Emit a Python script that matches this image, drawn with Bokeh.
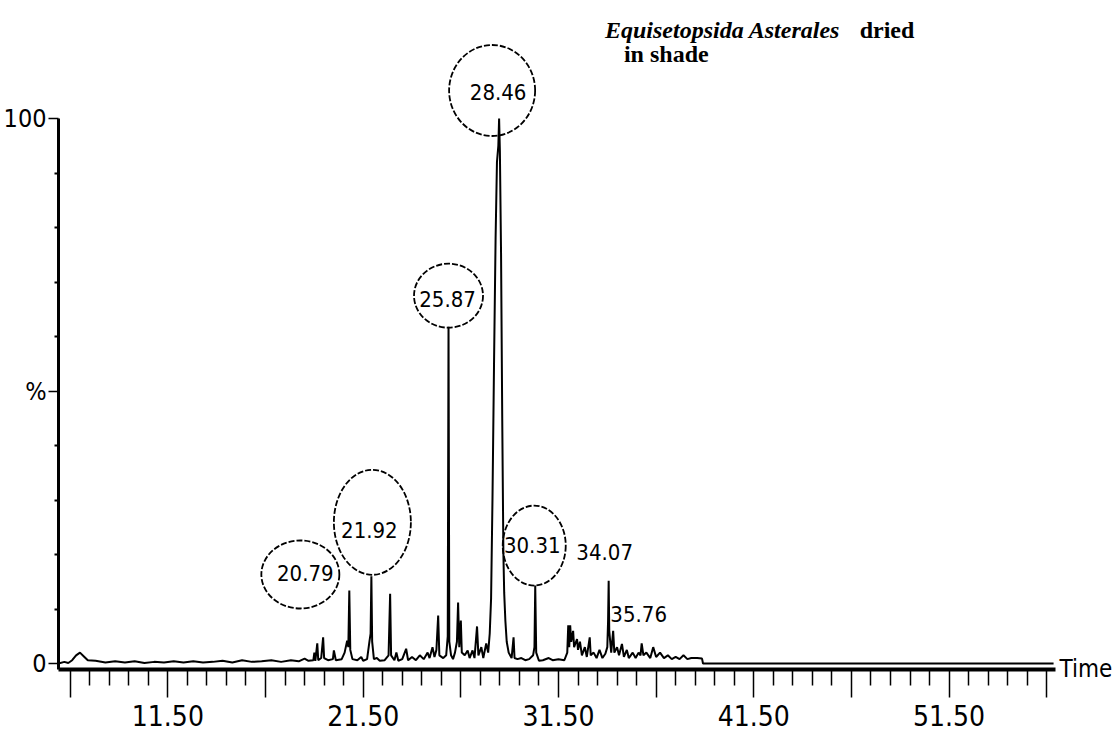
from bokeh.plotting import figure
from bokeh.models import FixedTicker, Range1d, Label, ColumnDataSource, LinearAxis
from bokeh.embed import file_html
from bokeh.resources import INLINE
from bokeh.core.properties import value

# ---------------- data (retention time [min], relative intensity [%]) ----------------
early_baseline = [
    (5.9, 0.0), (6.2, 0.3), (6.4, 0.1), (6.6, 0.6), (6.8, 1.5), (7.0, 2.0), (7.2, 1.3),
    (7.4, 0.6), (7.8, 0.5), (8.3, 0.2), (8.8, 0.4), (9.3, 0.2), (9.8, 0.4), (10.3, 0.1),
    (10.8, 0.3), (11.3, 0.2), (11.8, 0.4), (12.3, 0.2), (12.8, 0.4), (13.3, 0.2),
    (13.8, 0.3), (14.3, 0.5), (14.8, 0.2), (15.3, 0.6), (15.8, 0.3), (16.3, 0.4),
    (16.8, 0.6), (17.3, 0.3), (17.8, 0.6), (18.2, 0.4), (18.5, 0.9),
]
elution_a = [
    (18.7, 0.5), (18.95, 0.6), (19.0, 2.0), (19.05, 0.5), (19.15, 3.7), (19.2, 0.6),
    (19.35, 1.0), (19.45, 4.8), (19.5, 1.0), (19.7, 0.6), (19.95, 0.8), (20.0, 2.4),
    (20.1, 0.6), (20.4, 0.8), (20.55, 2.0), (20.68, 4.2), (20.74, 3.0), (20.79, 13.4),
    (20.84, 2.5), (20.95, 0.8), (21.2, 0.6), (21.4, 1.2), (21.5, 0.5), (21.7, 0.8),
    (21.82, 4.0), (21.88, 5.5), (21.92, 16.0), (21.96, 4.0), (22.05, 0.8), (22.2, 1.0),
    (22.35, 0.5), (22.6, 0.6), (22.8, 1.5), (22.88, 12.8), (22.93, 1.5), (23.1, 0.6),
    (23.2, 2.0), (23.3, 0.5), (23.5, 0.8), (23.7, 2.7), (23.8, 0.6), (24.0, 1.2),
    (24.2, 0.6), (24.4, 1.5), (24.6, 0.8), (24.8, 2.0), (24.9, 1.0), (25.05, 3.0),
    (25.15, 1.2), (25.25, 2.5), (25.34, 8.8), (25.4, 1.5), (25.6, 1.0), (25.75, 1.5),
    (25.83, 5.0), (25.87, 61.8), (25.91, 4.0), (26.0, 1.5), (26.1, 0.8), (26.2, 2.0),
    (26.3, 4.0), (26.36, 11.2), (26.42, 3.0), (26.5, 7.9), (26.55, 2.0), (26.7, 1.5),
    (26.85, 2.4), (26.95, 1.0), (27.1, 2.4), (27.2, 1.0), (27.33, 6.8), (27.4, 1.5),
    (27.55, 3.0), (27.65, 1.0), (27.8, 3.7), (27.9, 2.0),
]
main_peak = [
    (27.98, 5.5), (28.05, 12.0), (28.12, 30.0), (28.2, 55.0), (28.28, 78.0),
    (28.35, 92.0), (28.42, 95.0), (28.46, 100.0), (28.5, 94.0), (28.56, 75.0),
    (28.62, 45.0), (28.68, 20.0), (28.72, 13.0), (28.78, 7.9), (28.85, 4.0),
]
elution_b = [
    (28.95, 2.0), (29.1, 1.0), (29.2, 4.8), (29.25, 1.0), (29.4, 0.8), (29.6, 1.0),
    (29.8, 0.6), (30.0, 0.8), (30.2, 1.5), (30.27, 3.0), (30.31, 14.3), (30.36, 2.0),
    (30.5, 0.5), (30.7, 0.6), (31.0, 1.0), (31.2, 0.6), (31.5, 0.8), (31.8, 0.6),
    (31.95, 2.0), (32.0, 7.0), (32.05, 3.0), (32.1, 7.0), (32.15, 4.0), (32.25, 6.0),
    (32.3, 3.0), (32.45, 4.5), (32.5, 2.5), (32.6, 4.0), (32.7, 1.5), (32.85, 3.0),
    (32.95, 1.2), (33.1, 4.8), (33.15, 1.5), (33.3, 2.0), (33.45, 1.0), (33.6, 2.5),
    (33.75, 1.0), (33.9, 1.8), (34.0, 3.0), (34.04, 7.9), (34.07, 15.2), (34.1, 6.0),
    (34.2, 2.0), (34.3, 6.0), (34.36, 2.0), (34.5, 3.0), (34.6, 1.5), (34.75, 3.6),
    (34.85, 1.2), (35.0, 2.5), (35.1, 1.0), (35.3, 2.0), (35.45, 1.0), (35.6, 2.0),
    (35.7, 1.5), (35.76, 3.7), (35.85, 1.5), (36.0, 2.0), (36.2, 1.0), (36.35, 3.0),
    (36.5, 1.2), (36.7, 2.0), (36.9, 1.0), (37.1, 1.5), (37.3, 0.8), (37.5, 1.2),
    (37.7, 0.8), (37.9, 1.5), (38.1, 0.8), (38.3, 1.0), (38.6, 1.0), (38.85, 0.9),
]
late_baseline = [(38.9, 0.0), (56.85, 0.0)]

peak_names = ["20.79", "21.92", "25.87", "28.46", "30.31", "34.07", "35.76"]
peak_times = [20.79, 21.92, 25.87, 28.46, 30.31, 34.07, 35.76]
peak_heights = [13.4, 16.0, 61.8, 100.0, 14.3, 15.2, 3.7]

x_label_values = [11.5, 21.5, 31.5, 41.5, 51.5]
x_label_texts = ["11.50", "21.50", "31.50", "41.50", "51.50"]
y_label_values = [0, 50, 100]
y_label_texts = ["0", "%", "100"]
x_axis_name = "Time"

# ---------------- layout (pixels; page has no margin in Bokeh's template) ----------------
W, H = 1115, 744
BORDER_L, BORDER_R, BORDER_B, BORDER_T = 57, 60, 75, 0
PX_PER_MIN = 19.55
PX_PER_PCT = 5.45
X0, Y0 = 5.9, -1.1
X1 = X0 + (W - BORDER_L - BORDER_R) / PX_PER_MIN
Y1 = Y0 + (H - BORDER_B - BORDER_T) / PX_PER_PCT
FRAME_LEFT, FRAME_BOTTOM = BORDER_L, H - BORDER_B


def px_x(page_x):
    return X0 + (page_x - FRAME_LEFT) / PX_PER_MIN


def px_y(page_y):
    return Y0 + (FRAME_BOTTOM - page_y) / PX_PER_PCT


NARROW = "DejaVu Sans Condensed, DejaVu Sans, sans-serif"
SERIF = "Liberation Serif, Times New Roman, serif"

# label placement: offsets (px) from the peak apex (dx right, dy up)
label_dx = [-44, -2, -1, -1, -3, -4, -3]
label_dy = [17, 46, 28, 27, 41, 29, 29]
circle_idx = [0, 1, 2, 3, 4]
circle_dx = [-49, 1, 0, -7, -1]
circle_dy = [16, 54, 31, 28, 40]
circle_w = [78, 77, 69, 86, 63]
circle_h = [68, 105, 64, 91, 80]

p = figure(width=W, height=H, output_backend="svg", toolbar_location=None,
           x_range=Range1d(X0, X1), y_range=Range1d(Y0, Y1),
           min_border_left=BORDER_L, min_border_bottom=BORDER_B,
           min_border_right=BORDER_R, min_border_top=BORDER_T)
p.grid.visible = False
p.outline_line_color = None
p.background_fill_color = "white"
p.border_fill_color = "white"

# x axis
xa = p.xaxis[0]
x_major = [6.5 + 5 * k for k in range(11)]
x_minor = [6.5 + k for k in range(51) if k % 5 != 0]
xa.ticker = FixedTicker(ticks=x_major, minor_ticks=x_minor)
overrides = {t: "" for t in x_major}
for v, s in zip(x_label_values, x_label_texts):
    overrides[v] = s
xa.major_label_overrides = overrides
xa.axis_line_width = 4
xa.axis_line_color = "black"
xa.major_tick_out = 28
xa.major_tick_in = 0
xa.minor_tick_out = 16
xa.minor_tick_in = 0
xa.major_tick_line_width = 1.5
xa.minor_tick_line_width = 1.5
xa.major_tick_line_color = "black"
xa.minor_tick_line_color = "black"
xa.major_label_standoff = 7
xa.major_label_text_font = NARROW
xa.major_label_text_font_size = "28px"
xa.major_label_text_color = "black"

# y axis
ya = p.yaxis[0]
ya.ticker = FixedTicker(ticks=y_label_values, minor_ticks=[10, 20, 30, 40, 60, 70, 80, 90])
ya.major_label_overrides = {v: s for v, s in zip(y_label_values, y_label_texts)}
ya.bounds = (Y0, 100)
ya.axis_line_width = 3
ya.axis_line_color = "black"
ya.major_tick_out = 10
ya.major_tick_in = 0
ya.minor_tick_out = 4
ya.minor_tick_in = 0
ya.major_tick_line_width = 1.5
ya.minor_tick_line_width = 2
ya.major_label_standoff = 2
ya.major_label_text_font = NARROW
ya.major_label_text_font_size = "25px"
ya.major_label_text_color = "black"

# "Time" name at the right end of the time axis (a bare right axis with one label)
time_tick = round(Y0 + 0.05, 4)
ra = LinearAxis(ticker=FixedTicker(ticks=[time_tick], minor_ticks=[]),
                major_label_overrides={time_tick: x_axis_name},
                axis_line_color=None, major_tick_line_color=None,
                minor_tick_line_color=None, major_tick_out=0, major_tick_in=0,
                major_label_standoff=4, major_label_text_font=NARROW,
                major_label_text_font_size="24px", major_label_text_color="black")
p.add_layout(ra, "right")

# chromatogram trace
trace = early_baseline + elution_a + main_peak + elution_b + late_baseline
src = ColumnDataSource(dict(t=[a for a, _ in trace], i=[b for _, b in trace]))
p.line("t", "i", source=src, line_color="black", line_width=2)

# peak labels
lab_x = [t + dx / PX_PER_MIN for t, dx in zip(peak_times, label_dx)]
lab_y = [h + dy / PX_PER_PCT for h, dy in zip(peak_heights, label_dy)]
p.text(x=lab_x, y=lab_y, text=peak_names, text_font=value(NARROW),
       text_font_size="22px", text_align="center", text_baseline="middle",
       text_color="black")

# hand-drawn circles round the main peak labels
c_x = [peak_times[k] + dx / PX_PER_MIN for k, dx in zip(circle_idx, circle_dx)]
c_y = [peak_heights[k] + dy / PX_PER_PCT for k, dy in zip(circle_idx, circle_dy)]
p.ellipse(x=c_x, y=c_y, width=circle_w, height=circle_h,
          width_units="screen", height_units="screen",
          fill_color=None, line_color="black", line_width=1.8, line_dash="6 2")

# title
p.add_layout(Label(x=px_x(604), y=px_y(29), text="Equisetopsida Asterales",
                   text_font=SERIF, text_font_style="bold italic", text_font_size="24px",
                   text_align="left", text_baseline="alphabetic", text_color="black"))
p.add_layout(Label(x=px_x(859), y=px_y(29), text="dried",
                   text_font=SERIF, text_font_style="bold", text_font_size="24px",
                   text_align="left", text_baseline="alphabetic", text_color="black"))
p.add_layout(Label(x=px_x(623), y=px_y(53), text="in shade",
                   text_font=SERIF, text_font_style="bold", text_font_size="24px",
                   text_align="left", text_baseline="alphabetic", text_color="black"))

open("out.html", "w").write(file_html(p, INLINE))
